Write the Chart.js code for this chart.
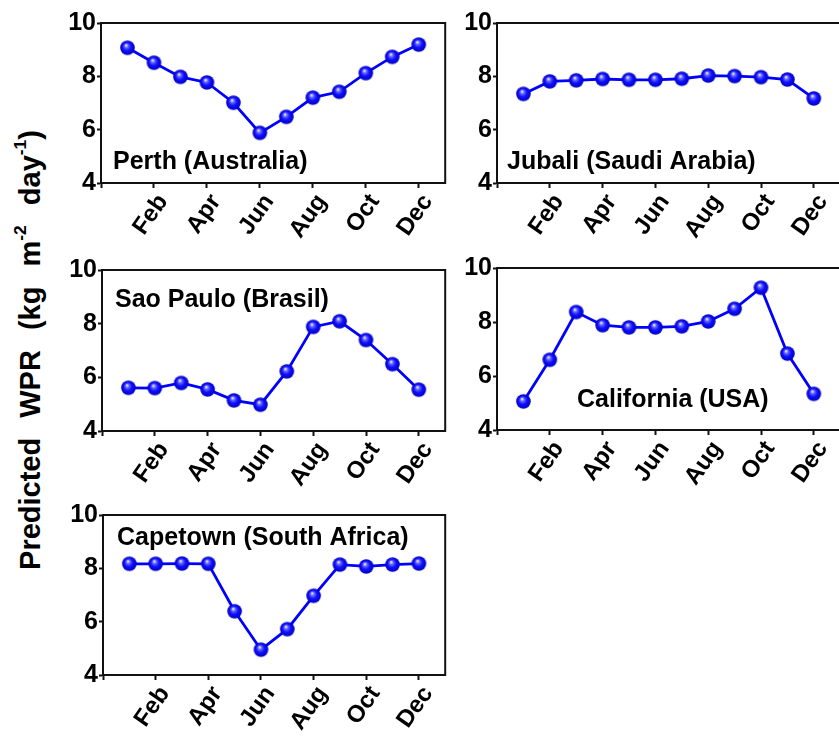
<!DOCTYPE html>
<html>
<head>
<meta charset="utf-8">
<script src="https://cdn.jsdelivr.net/npm/chart.js@4.4.1/dist/chart.umd.min.js"></script>
<style>
  html, body { margin: 0; padding: 0; background: #fff; width: 839px; height: 737px; overflow: hidden; }
  canvas { position: absolute; }
  #ytitle {
    position: absolute; left: 30px; top: 350px;
    transform: translate(-50%, -50%) rotate(-90deg);
    font: bold 29px 'Liberation Sans', Arial, sans-serif;
    line-height: 29px; white-space: nowrap; word-spacing: 12px; color: #000;
  }
  #ytitle sup { font-size: 0.6em; line-height: 0; vertical-align: 0.8em; word-spacing: 0; }
</style>
</head>
<body>
<div id="ytitle">Predicted WPR (kg m<sup>-2</sup> day<sup>-1</sup>)</div>
<canvas id="perth"></canvas>
<canvas id="jubali"></canvas>
<canvas id="saopaulo"></canvas>
<canvas id="california"></canvas>
<canvas id="capetown"></canvas>
<script>
// month number of each point (Jan = 1 ... Dec = 12)
var monthNums = [1, 2, 3, 4, 5, 6, 7, 8, 9, 10, 11, 12];
var xTickValues = [0, 2, 4, 6, 8, 10, 12];
var xTickLabels = ['', 'Feb', 'Apr', 'Jun', 'Aug', 'Oct', 'Dec'];
var yTickValues = [4, 6, 8, 10];

// predicted WPR per month
var perthWPR      = [9.07, 8.51, 7.98, 7.77, 7.01, 5.88, 6.48, 7.20, 7.42, 8.12, 8.73, 9.19];
var jubaliWPR     = [7.34, 7.81, 7.85, 7.90, 7.87, 7.87, 7.91, 8.03, 8.01, 7.97, 7.88, 7.17];
var saoPauloWPR   = [5.61, 5.60, 5.79, 5.55, 5.14, 4.98, 6.22, 7.88, 8.09, 7.39, 6.49, 5.54];
var californiaWPR = [5.06, 6.60, 8.37, 7.88, 7.80, 7.80, 7.84, 8.02, 8.49, 9.27, 6.83, 5.34];
var capetownWPR   = [8.17, 8.17, 8.18, 8.17, 6.39, 4.95, 5.72, 6.97, 8.14, 8.07, 8.14, 8.18];

var FONT = "'Liberation Sans', Arial, sans-serif";
var YW = 50, XH = 75, PAD_T = 14, PAD_R = 8;

// shaded blue ball used as marker
function makeSphere(r) {
  var c = document.createElement('canvas');
  var d = Math.ceil(r * 2 + 2);
  c.width = c.height = d;
  var g = c.getContext('2d');
  var cx = d / 2, cy = d / 2;
  var grad = g.createRadialGradient(cx - r * 0.2, cy - r * 0.35, r * 0.05, cx, cy, r);
  grad.addColorStop(0, '#f0f0ff');
  grad.addColorStop(0.22, '#6a6aff');
  grad.addColorStop(0.55, '#1010ff');
  grad.addColorStop(1, '#0000c0');
  g.fillStyle = grad;
  g.beginPath();
  g.arc(cx, cy, r, 0, Math.PI * 2);
  g.fill();
  return c;
}
var ball = makeSphere(7.3);

// closed frame around the plot area plus the panel caption
var panelPlugin = {
  id: 'panel',
  beforeDatasetsDraw: function (chart) {
    var a = chart.chartArea, ctx = chart.ctx;
    ctx.save();
    ctx.strokeStyle = '#111';
    ctx.lineWidth = 2;
    ctx.strokeRect(a.left, a.top, a.right - a.left, a.bottom - a.top);
    ctx.restore();
  },
  afterDraw: function (chart, args, opts) {
    var a = chart.chartArea, ctx = chart.ctx;
    ctx.save();
    ctx.fillStyle = '#000';
    ctx.font = 'bold 25px ' + FONT;
    ctx.textBaseline = 'alphabetic';
    ctx.fillText(opts.text, a.left + opts.dx, a.top + opts.dy);
    ctx.restore();
  }
};

function makePanel(id, box, values, caption) {
  var cv = document.getElementById(id);
  cv.style.left = (box.L - YW) + 'px';
  cv.style.top = (box.T - PAD_T) + 'px';
  cv.width = box.R - box.L + YW + PAD_R;
  cv.height = box.B - box.T + PAD_T + XH;

  var pts = monthNums.map(function (m, i) { return { x: m, y: values[i] }; });

  return new Chart(cv.getContext('2d'), {
    type: 'line',
    data: {
      datasets: [{
        data: pts,
        borderColor: '#0000ff',
        borderWidth: 2.8,
        tension: 0,
        pointStyle: ball,
        pointRadius: 7,
        clip: false
      }]
    },
    options: {
      responsive: false,
      animation: false,
      layout: { padding: { top: PAD_T, right: PAD_R, left: 0, bottom: 0 } },
      plugins: {
        legend: { display: false },
        tooltip: { enabled: false },
        panel: caption
      },
      scales: {
        x: {
          type: 'linear',
          min: 0,
          max: 13,
          afterBuildTicks: function (s) {
            s.ticks = xTickValues.map(function (v) { return { value: v }; });
          },
          afterFit: function (s) { s.height = XH; },
          grid: { drawOnChartArea: false, drawTicks: true, tickLength: 5, tickWidth: 2, color: '#111' },
          border: { display: true, color: '#111', width: 2 },
          ticks: {
            autoSkip: false,
            minRotation: 55,
            maxRotation: 55,
            padding: 1,
            labelOffset: 9,
            color: '#000',
            font: { family: FONT, size: 24, weight: 'bold' },
            callback: function (v) { return xTickLabels[xTickValues.indexOf(v)]; }
          }
        },
        y: {
          min: 4,
          max: 10,
          afterBuildTicks: function (s) {
            s.ticks = yTickValues.map(function (v) { return { value: v }; });
          },
          afterFit: function (s) { s.width = YW; },
          grid: { drawOnChartArea: false, drawTicks: true, tickLength: 4, tickWidth: 2, color: '#111' },
          border: { display: true, color: '#111', width: 2 },
          ticks: {
            padding: 1,
            color: '#000',
            font: { family: FONT, size: 25, weight: 'bold' }
          }
        }
      }
    },
    plugins: [panelPlugin]
  });
}

makePanel('perth',      { L: 101, T: 21,  R: 447, B: 183 }, perthWPR,      { text: 'Perth (Australia)',        dx: 12, dy: 146 });
makePanel('jubali',     { L: 497, T: 21,  R: 842, B: 183 }, jubaliWPR,     { text: 'Jubali (Saudi Arabia)',    dx: 10, dy: 146 });
makePanel('saopaulo',   { L: 102, T: 268, R: 447, B: 431 }, saoPauloWPR,   { text: 'Sao Paulo (Brasil)',       dx: 13, dy: 37 });
makePanel('california', { L: 497, T: 266, R: 842, B: 430 }, californiaWPR, { text: 'California (USA)',         dx: 80, dy: 139 });
makePanel('capetown',   { L: 103, T: 513, R: 447, B: 675 }, capetownWPR,   { text: 'Capetown (South Africa)',  dx: 14, dy: 30 });
</script>
</body>
</html>
